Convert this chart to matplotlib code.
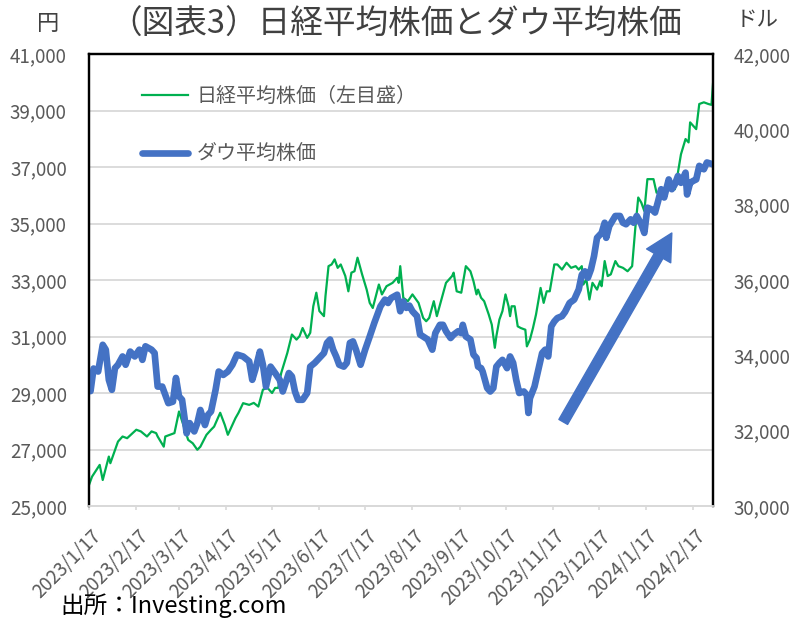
import matplotlib
matplotlib.use('Agg')
import matplotlib.pyplot as plt
from matplotlib.transforms import ScaledTranslation
from matplotlib.patches import FancyArrowPatch
from matplotlib.ticker import FuncFormatter
import pandas as pd

plt.rcParams['font.family'] = ['Noto Sans CJK JP', 'DejaVu Sans']

start = pd.Timestamp('2023-01-17')
end = pd.Timestamp('2024-03-01')

# Nikkei 225 (yen, left axis): days since 2023-01-17, value
nikkei_days = [0, 2, 7, 9, 13, 14, 19, 22, 25, 31, 34, 38, 41, 44, 45, 49, 50, 56, 59, 65,
               68, 71, 73, 77, 80, 82, 86, 89, 91, 94, 96, 98, 101, 105, 108, 111, 114, 117, 120, 122,
               124, 126, 130, 133, 136, 138, 140, 143, 145, 147, 149, 151, 154, 155, 157, 159, 161, 163, 165, 168,
               170, 172, 174, 176, 179, 182, 184, 186, 190, 192, 195, 199, 202, 203, 204, 206, 209, 212, 216, 219,
               221, 223, 226, 228, 231, 234, 238, 239, 241, 244, 247, 250, 252, 254, 255, 257, 259, 262, 264, 266,
               267, 269, 271, 273, 275, 276, 277, 279, 281, 283, 286, 287, 289, 291, 293, 296, 298, 300, 302, 305,
               307, 310, 313, 316, 319, 321, 323, 324, 326, 328, 330, 333, 335, 336, 338, 340, 342, 345, 347, 350,
               353, 356, 358, 360, 362, 364, 366, 370, 372, 374, 377, 381, 384, 386, 388, 391, 393, 394, 396, 398,
               400, 403, 406, 408, 409]
nikkei_values = [25745, 26040, 26455, 25920, 26750, 26515, 27280, 27460, 27400, 27700, 27640, 27460, 27640, 27580, 27460, 27100, 27460, 27580, 28345, 27340,
                 27220, 26990, 27100, 27520, 27700, 27810, 28300, 27870, 27520, 27870, 28110, 28300, 28640, 28580, 28650, 28520, 29120, 29180, 29000, 29180,
                 29180, 29710, 30420, 31070, 30890, 31010, 31300, 30950, 31130, 32070, 32550, 31900, 31720, 32430, 33490, 33550, 33730, 33430, 33550, 33140,
                 32600, 33260, 33310, 33790, 33200, 32660, 32190, 32010, 32840, 32490, 32780, 32900, 33080, 32900, 33490, 32370, 32250, 32490, 32190, 31660,
                 31540, 31660, 32250, 31720, 32310, 32900, 33140, 33260, 32600, 32550, 33490, 33310, 32960, 32490, 32660, 32370, 32250, 31780, 31420, 30600,
                 31010, 31600, 31900, 32490, 32070, 31720, 32070, 32070, 31360, 31300, 31240, 30650, 30890, 31300, 31780, 32720, 32190, 32600, 32600, 33550,
                 33550, 33370, 33610, 33430, 33490, 33370, 33490, 32840, 33020, 32310, 32900, 32660, 32960, 32780, 33670, 33140, 33200, 33670, 33490, 33430,
                 33310, 33490, 34790, 35920, 35740, 35440, 36570, 36570, 36090, 36150, 36210, 36390, 36210, 36800, 37450, 37990, 37870, 38580, 38460, 38340,
                 39230, 39290, 39230, 39200, 39940]

# Dow Jones (dollars, right axis): days since 2023-01-17, value
dow_days = [0, 1, 3, 6, 9, 11, 13, 15, 17, 19, 22, 24, 27, 30, 33, 35, 37, 41, 43, 45,
            48, 52, 55, 57, 59, 61, 64, 66, 69, 71, 73, 76, 78, 80, 83, 85, 88, 91, 94, 97,
            101, 105, 107, 109, 112, 114, 116, 119, 122, 125, 127, 131, 133, 135, 137, 140, 143, 145, 148, 151,
            154, 156, 158, 160, 162, 164, 167, 169, 171, 173, 175, 178, 181, 184, 187, 191, 194, 196, 198, 202,
            204, 206, 208, 210, 212, 215, 217, 219, 222, 225, 227, 230, 232, 234, 237, 239, 242, 244, 245, 247,
            250, 252, 254, 255, 257, 258, 261, 263, 265, 267, 269, 271, 274, 276, 278, 280, 282, 285, 287, 288,
            289, 292, 294, 297, 299, 301, 303, 305, 307, 310, 312, 315, 318, 321, 323, 325, 327, 329, 331, 333,
            336, 338, 339, 341, 345, 348, 350, 352, 355, 357, 359, 362, 364, 366, 369, 371, 373, 375, 377, 380,
            382, 384, 386, 388, 391, 392, 394, 396, 398, 400, 403, 405, 409]
dow_values = [33300, 33050, 33650, 33570, 34280, 34150, 33350, 33085, 33660, 33750, 33970, 33750, 34100, 33970, 34150, 33880, 34240, 34150, 34060, 33170,
              33170, 32730, 32770, 33400, 32910, 32820, 31930, 32200, 31980, 32200, 32550, 32150, 32420, 32510, 33090, 33570, 33480, 33570, 33750, 34020,
              33970, 33840, 33350, 33620, 34100, 33750, 33170, 33700, 33530, 33350, 33040, 33530, 33440, 33040, 32820, 32820, 33000, 33700, 33800, 33930,
              34060, 34330, 34420, 34150, 33970, 33750, 33700, 33800, 34330, 34370, 34150, 33750, 34150, 34500, 34860, 35300, 35480, 35390, 35520, 35610,
              35170, 35430, 35260, 35320, 35170, 35040, 34550, 34500, 34420, 34150, 34590, 34810, 34810, 34640, 34460, 34550, 34640, 34590, 34810, 34500,
              34420, 34020, 33930, 33700, 33660, 33570, 33130, 33040, 33130, 33700, 33800, 33880, 33660, 33970, 33800, 33350, 33000, 33040, 32950, 32470,
              32860, 33170, 33530, 34060, 34150, 33970, 34770, 34900, 34990, 35040, 35150, 35390, 35480, 35750, 36140, 36230, 36060, 36280, 36630, 37120,
              37250, 37520, 37120, 37430, 37700, 37700, 37520, 37480, 37610, 37520, 37700, 37480, 37250, 37920, 37870, 37790, 38090, 38410, 38190, 38670,
              38410, 38540, 38760, 38580, 38850, 38270, 38580, 38630, 38670, 39030, 38940, 39120, 39070]

tick_dates = ['2023-01-17', '2023-02-17', '2023-03-17', '2023-04-17', '2023-05-17', '2023-06-17', '2023-07-17',
              '2023-08-17', '2023-09-17', '2023-10-17', '2023-11-17', '2023-12-17', '2024-01-17', '2024-02-17']
tick_labels = ['2023/1/17', '2023/2/17', '2023/3/17', '2023/4/17', '2023/5/17', '2023/6/17', '2023/7/17',
               '2023/8/17', '2023/9/17', '2023/10/17', '2023/11/17', '2023/12/17', '2024/1/17', '2024/2/17']
left_ticks = [25000, 27000, 29000, 31000, 33000, 35000, 37000, 39000, 41000]
right_ticks = [30000, 32000, 34000, 36000, 38000, 40000, 42000]

nikkei_label = '日経平均株価（左目盛）'
dow_label = 'ダウ平均株価'
title = '（図表3）日経平均株価とダウ平均株価'
source = '出所：Investing.com'

GREEN = '#00B050'
BLUE = '#4472C4'
GREY = '#595959'
GRID = '#D9D9D9'

nikkei_dates = start + pd.to_timedelta(nikkei_days, unit='D')
dow_dates = start + pd.to_timedelta(dow_days, unit='D')

fig = plt.figure(figsize=(8.06, 6.27), dpi=100)
ax = fig.add_axes([89 / 806, 121 / 627, 624 / 806, 452 / 627])
ax2 = ax.twinx()

l1, = ax.plot(nikkei_dates, nikkei_values, color=GREEN, lw=1.6, solid_joinstyle='round')
l2, = ax2.plot(dow_dates, dow_values, color=BLUE, lw=4.8, solid_joinstyle='round',
               solid_capstyle='round')

ax.set_xlim(start, end)
ax.set_ylim(25000, 41000)
ax2.set_ylim(30000, 42000)

fmt = FuncFormatter(lambda v, p: f'{int(v):,}')
ax.set_yticks(left_ticks)
ax.yaxis.set_major_formatter(fmt)
ax2.set_yticks(right_ticks)
ax2.yaxis.set_major_formatter(fmt)

ax.yaxis.grid(True, color=GRID, lw=1.3)
ax.set_axisbelow(True)

ax.tick_params(axis='y', length=0, pad=16, labelsize=13.5, labelcolor=GREY)
ax2.tick_params(axis='y', length=0, pad=15, labelsize=13.5, labelcolor=GREY)
ax.set_xticks(pd.to_datetime(tick_dates))
ax.set_xticklabels(tick_labels)
ax.tick_params(axis='x', length=3, width=1.2, color=GRID, pad=0, labelsize=13.5, labelcolor=GREY)

for a in (ax, ax2):
    for s in ('left', 'right', 'top'):
        a.spines[s].set_color('black')
        a.spines[s].set_linewidth(1.6)
    a.spines['bottom'].set_color(GRID)
    a.spines['bottom'].set_linewidth(1.3)

offset = ScaledTranslation(0.125, -0.27, fig.dpi_scale_trans)
for lab in ax.get_xticklabels():
    lab.set_rotation(45)
    lab.set_ha('right')
    lab.set_va('baseline')
    lab.set_rotation_mode('anchor')
    lab.set_transform(lab.get_transform() + offset)

leg = ax2.legend([l1, l2], [nikkei_label, dow_label], loc='upper left',
                 bbox_to_anchor=(0.0845, 0.929), frameon=False, borderaxespad=0,
                 borderpad=0, handlelength=2.33, handletextpad=0.4, labelspacing=1.85,
                 prop={'size': 14.4}, labelcolor=GREY)

arrow = FancyArrowPatch(posA=(0.760, 0.186), posB=(0.934, 0.604), transform=ax2.transAxes,
                        arrowstyle='simple,head_length=19,head_width=20,tail_width=7.2',
                        mutation_scale=1, color=BLUE, shrinkA=0, shrinkB=0)
ax2.add_patch(arrow)

fig.text(396 / 806, 1 - 25 / 627, title, ha='center', va='center', fontsize=23.5, color='#404040')
fig.text(48 / 806, 1 - 24 / 627, '円', ha='center', va='center', fontsize=16, color='#404040')
fig.text(757 / 806, 1 - 20 / 627, 'ドル', ha='center', va='center', fontsize=15.5, color='#404040')
fig.text(60 / 806, 1 - 606 / 627, source, ha='left', va='center', fontsize=17, color='black')

fig.savefig('out.png', dpi=100)
